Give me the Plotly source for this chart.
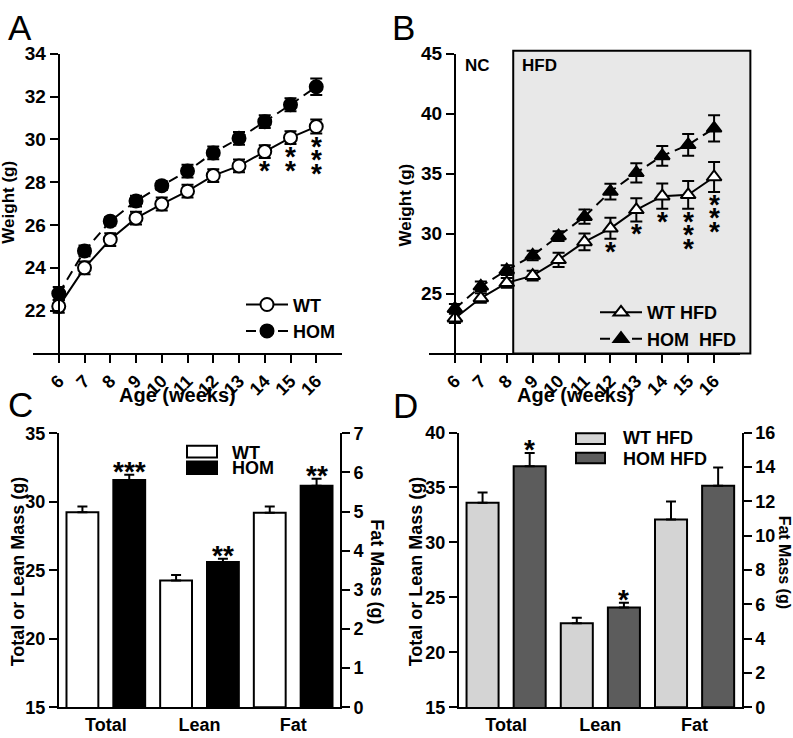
import plotly.graph_objects as go

W, H = 793, 738
FONT = "Liberation Sans, Arial, sans-serif"

# ---------------- data ----------------
weeks = [6, 7, 8, 9, 10, 11, 12, 13, 14, 15, 16]

# Panel A (normal chow)
a_wt = [22.2, 24.0, 25.32, 26.32, 26.98, 27.58, 28.31, 28.76, 29.43, 30.08, 30.6]
a_wt_err = [0.3, 0.3, 0.3, 0.3, 0.3, 0.3, 0.3, 0.3, 0.3, 0.3, 0.33]
a_hom = [22.8, 24.79, 26.18, 27.12, 27.84, 28.52, 29.37, 30.05, 30.83, 31.62, 32.46]
a_hom_err = [0.3, 0.25, 0.2, 0.25, 0.2, 0.3, 0.3, 0.3, 0.3, 0.3, 0.38]
a_stars = [0, 0, 0, 0, 0, 0, 0, 0, 1, 2, 3]
a_yticks = [22, 24, 26, 28, 30, 32, 34]

# Panel B (high-fat diet)
b_wt = [22.94, 24.62, 25.89, 26.49, 27.81, 29.3, 30.44, 31.98, 33.12, 33.23, 34.72]
b_wt_err = [0.4, 0.4, 0.4, 0.4, 0.6, 0.7, 0.88, 0.97, 1.05, 1.15, 1.25]
b_hom = [23.73, 25.6, 26.95, 28.17, 29.79, 31.41, 33.5, 35.07, 36.48, 37.4, 38.78]
b_hom_err = [0.4, 0.4, 0.4, 0.4, 0.4, 0.6, 0.65, 0.8, 0.82, 0.9, 1.1]
b_stars = [0, 0, 0, 0, 0, 0, 1, 1, 1, 3, 3]
b_yticks = [25, 30, 35, 40, 45]
hfd_start = 8.25
hfd_end = 17.4

# Panel C / D body composition
cats = ["Total", "Lean", "Fat"]
mass_cats = ["Total", "Lean"]
fat_cats = ["Fat"]

c_wt_mass = [29.23, 24.25]
c_wt_mass_err = [0.43, 0.41]
c_hom_mass = [31.58, 25.61]
c_hom_mass_err = [0.38, 0.23]
c_wt_fat = [4.97]
c_wt_fat_err = [0.16]
c_hom_fat = [5.66]
c_hom_fat_err = [0.18]
c_stars = ["***", "**", "**"]
c_left_ticks = [15, 20, 25, 30, 35]
c_right_ticks = [0, 1, 2, 3, 4, 5, 6, 7]

d_wt_mass = [33.6, 22.64]
d_wt_mass_err = [0.94, 0.51]
d_hom_mass = [36.93, 24.09]
d_hom_mass_err = [1.21, 0.41]
d_wt_fat = [10.94]
d_wt_fat_err = [1.04]
d_hom_fat = [12.9]
d_hom_fat_err = [1.07]
d_stars = ["*", "*", ""]
d_left_ticks = [15, 20, 25, 30, 35, 40]
d_right_ticks = [0, 2, 4, 6, 8, 10, 12, 14, 16]

# ---------------- helpers ----------------
def px(x):
    return x / W


def py(y):
    return 1 - y / H


def bold(size):
    return dict(family=FONT, size=size, color="black", weight="bold")


def btext(vals):
    return ["<b>%s</b>" % v for v in vals]


XR = [5, 17]
A_X = (33, 342)
B_X = (429, 740)
AB_Y = (45, 353)
C_X = (59, 340)
D_X = (459, 741.7)
CD_Y = (716.7, 435)
D_Y = (716.7, 434.3)

fig = go.Figure()

err_style = dict(type="data", color="black", thickness=2, width=6)

# ---- A ----
fig.add_trace(go.Scatter(
    x=weeks, y=a_hom, name="HOM", mode="lines+markers", legend="legend", legendrank=2,
    line=dict(color="black", width=2, dash="10px,6px"),
    marker=dict(symbol="circle", size=13, color="black", line=dict(color="black", width=2)),
    error_y=dict(array=a_hom_err, **err_style), xaxis="x", yaxis="y"))
fig.add_trace(go.Scatter(
    x=weeks, y=a_wt, name="WT", mode="lines+markers", legend="legend", legendrank=1,
    line=dict(color="black", width=2),
    marker=dict(symbol="circle", size=13, color="white", line=dict(color="black", width=2)),
    error_y=dict(array=a_wt_err, **err_style), xaxis="x", yaxis="y"))

# ---- B ----
fig.add_trace(go.Scatter(
    x=weeks, y=b_hom, name="HOM  HFD", mode="lines+markers", legend="legend2", legendrank=2,
    line=dict(color="black", width=2, dash="10px,6px"),
    marker=dict(symbol="triangle-up", size=13, color="black", line=dict(color="black", width=2)),
    error_y=dict(array=b_hom_err, **err_style), xaxis="x2", yaxis="y2"))
fig.add_trace(go.Scatter(
    x=weeks, y=b_wt, name="WT HFD", mode="lines+markers", legend="legend2", legendrank=1,
    line=dict(color="black", width=2),
    marker=dict(symbol="triangle-up", size=13, color="white", line=dict(color="black", width=2)),
    error_y=dict(array=b_wt_err, **err_style), xaxis="x2", yaxis="y2"))

# ---- C / D bars ----
bar_err = dict(type="data", color="black", thickness=2, width=5, symmetric=False)


def add_bars(xa, ya, yf, wt_m, wt_me, hom_m, hom_me, wt_f, wt_fe, hom_f, hom_fe, c_wt, c_hom):
    line = dict(color="black", width=2)
    fig.add_trace(go.Bar(x=mass_cats, y=wt_m, marker=dict(color=c_wt, line=line), showlegend=False,
                         error_y=dict(array=wt_me, arrayminus=[0] * len(wt_me), **bar_err),
                         xaxis=xa, yaxis=ya))
    fig.add_trace(go.Bar(x=mass_cats, y=hom_m, marker=dict(color=c_hom, line=line), showlegend=False,
                         error_y=dict(array=hom_me, arrayminus=[0] * len(hom_me), **bar_err),
                         xaxis=xa, yaxis=ya))
    fig.add_trace(go.Bar(x=fat_cats, y=wt_f, marker=dict(color=c_wt, line=line), showlegend=False,
                         error_y=dict(array=wt_fe, arrayminus=[0] * len(wt_fe), **bar_err),
                         xaxis=xa, yaxis=yf))
    fig.add_trace(go.Bar(x=fat_cats, y=hom_f, marker=dict(color=c_hom, line=line), showlegend=False,
                         error_y=dict(array=hom_fe, arrayminus=[0] * len(hom_fe), **bar_err),
                         xaxis=xa, yaxis=yf))


add_bars("x3", "y3", "y5", c_wt_mass, c_wt_mass_err, c_hom_mass, c_hom_mass_err,
         c_wt_fat, c_wt_fat_err, c_hom_fat, c_hom_fat_err, "white", "black")
add_bars("x4", "y4", "y6", d_wt_mass, d_wt_mass_err, d_hom_mass, d_hom_mass_err,
         d_wt_fat, d_wt_fat_err, d_hom_fat, d_hom_fat_err, "#d4d4d4", "#5c5c5c")

# ---------------- axes ----------------
common = dict(showgrid=False, zeroline=False, showline=True, linecolor="black", linewidth=2,
              ticks="outside", ticklen=8, tickwidth=2, tickcolor="black", fixedrange=True)


def free_pos(xdom):
    return px(xdom[0]) + (6 - XR[0]) / (XR[1] - XR[0]) * (px(xdom[1]) - px(xdom[0]))


layout_axes = dict(
    xaxis=dict(domain=[px(A_X[0]), px(A_X[1])], range=XR, anchor="y", tickvals=weeks,
               ticktext=btext(weeks), tickangle=-45, tickfont=bold(18), **common),
    yaxis=dict(domain=[py(AB_Y[1]), py(AB_Y[0])], range=[20, 34], anchor="free",
               position=free_pos(A_X), tickvals=a_yticks, ticktext=btext(a_yticks),
               tickfont=bold(19), **common),
    xaxis2=dict(domain=[px(B_X[0]), px(B_X[1])], range=XR, anchor="y2", tickvals=weeks,
                ticktext=btext(weeks), tickangle=-45, tickfont=bold(18), **common),
    yaxis2=dict(domain=[py(AB_Y[1]), py(AB_Y[0])], range=[20, 45], anchor="free",
                position=free_pos(B_X), tickvals=b_yticks, ticktext=btext(b_yticks),
                tickfont=bold(19), **common),
)
cat_axis = dict(type="category", categoryorder="array", categoryarray=cats, range=[-0.5, 2.5],
                tickvals=cats, ticktext=btext(cats),
                showgrid=False, zeroline=False, showline=True, linecolor="black", linewidth=2,
                ticks="", tickfont=bold(18), fixedrange=True)
layout_axes.update(
    xaxis3=dict(domain=[px(C_X[0]), px(C_X[1])], anchor="y3", **cat_axis),
    yaxis3=dict(domain=[py(CD_Y[0]), py(CD_Y[1])], range=[15, 35], anchor="x3",
                tickvals=c_left_ticks, ticktext=btext(c_left_ticks), tickfont=bold(18), **common),
    yaxis5=dict(overlaying="y3", side="right", range=[0, 7], anchor="x3",
                tickvals=c_right_ticks, ticktext=btext(c_right_ticks), tickfont=bold(18), **common),
    xaxis4=dict(domain=[px(D_X[0]), px(D_X[1])], anchor="y4", **cat_axis),
    yaxis4=dict(domain=[py(D_Y[0]), py(D_Y[1])], range=[15, 40], anchor="x4",
                tickvals=d_left_ticks, ticktext=btext(d_left_ticks), tickfont=bold(18), **common),
    yaxis6=dict(overlaying="y4", side="right", range=[0, 16], anchor="x4",
                tickvals=d_right_ticks, ticktext=btext(d_right_ticks), tickfont=bold(18), **common),
)

# ---------------- shapes ----------------
shapes = [
    dict(type="rect", xref="x2 domain", yref="y2 domain",
         x0=(hfd_start - XR[0]) / (XR[1] - XR[0]), x1=(hfd_end - XR[0]) / (XR[1] - XR[0]),
         y0=0, y1=(45.25 - 20) / 25, fillcolor="#e8e8e8", line=dict(color="black", width=2),
         layer="below"),
]


def legend_box(x0, x1, y0, y1, color):
    shapes.append(dict(type="rect", xref="paper", yref="paper", x0=px(x0), x1=px(x1),
                       y0=py(y1), y1=py(y0), fillcolor=color, line=dict(color="black", width=2)))


legend_box(187, 217, 448, 460, "white")
legend_box(187, 217, 464, 477, "black")
legend_box(576, 605, 435, 446, "#d4d4d4")
legend_box(576, 605, 455, 466, "#5c5c5c")

# ---------------- annotations ----------------
ann = []


def text(x, y, s, size, weight="bold", angle=0, xanchor="center"):
    ann.append(dict(x=px(x), y=py(y), xref="paper", yref="paper", text=s, showarrow=False,
                    textangle=angle, xanchor=xanchor, yanchor="middle",
                    font=dict(family=FONT, size=size, color="black", weight=weight)))


# panel letters
text(6, 18, "A", 35, weight="normal", xanchor="left")
text(390, 18.5, "B", 35, weight="normal", xanchor="left")
text(6, 405, "C", 35, weight="normal", xanchor="left")
text(391, 407, "D", 35, weight="normal", xanchor="left")

# axis titles
text(9, 198, "Weight (g)", 17, angle=-90)
text(406, 201, "Weight (g)", 17, angle=-90)
text(177.5, 396, "Age (weeks)", 20)
text(575.5, 396, "Age (weeks)", 20)
text(18, 577, "Total or Lean Mass (g)", 18, angle=-90)
text(416, 577, "Total or Lean Mass (g)", 18, angle=-90)
text(377, 577, "Fat Mass (g)", 18, angle=90)
text(784, 567, "Fat Mass (g)", 16, angle=90)

# diet labels
text(463, 57, "NC", 17, xanchor="left")
text(520, 57, "HFD", 17, xanchor="left")

# manual bar legends
text(230, 455, "WT", 18, xanchor="left")
text(230, 471, "HOM", 18, xanchor="left")
text(621, 440, "WT HFD", 18, xanchor="left")
text(621, 461, "HOM HFD", 18, xanchor="left")

STAR = dict(family=FONT, size=28, color="black", weight="bold")
GLYPH = 5.5


def line_stars(xr, yr, vals, errs, counts):
    for w, v, e, n in zip(weeks, vals, errs, counts):
        for i in range(n):
            ann.append(dict(x=w, y=v - e, xref=xr, yref=yr, text="*", showarrow=False,
                            xanchor="center", yanchor="middle", font=STAR,
                            yshift=-(7 + 13.5 * i) - GLYPH))


line_stars("x", "y", a_wt, a_wt_err, a_stars)
line_stars("x2", "y2", b_wt, b_wt_err, b_stars)


def bar_stars(xr, yr, yf, hom_m, hom_me, hom_f, hom_fe, stars):
    tops = [(yr, m + e) for m, e in zip(hom_m, hom_me)] + [(yf, f + e) for f, e in zip(hom_f, hom_fe)]
    for idx, (s, (ref, top)) in enumerate(zip(stars, tops)):
        if s:
            ann.append(dict(x=idx + 0.25, y=top, xref=xr, yref=ref, text=s, showarrow=False,
                            xanchor="center", yanchor="middle", font=STAR, yshift=9 - GLYPH))


bar_stars("x3", "y3", "y5", c_hom_mass, c_hom_mass_err, c_hom_fat, c_hom_fat_err, c_stars)
bar_stars("x4", "y4", "y6", d_hom_mass, d_hom_mass_err, d_hom_fat, d_hom_fat_err, d_stars)

legend_common = dict(xanchor="left", yanchor="top", bgcolor="rgba(0,0,0,0)", borderwidth=0,
                     font=bold(18), itemwidth=42, tracegroupgap=0, itemclick=False,
                     itemdoubleclick=False)

fig.update_layout(
    width=W, height=H, autosize=False, margin=dict(l=0, r=0, t=0, b=0),
    paper_bgcolor="white", plot_bgcolor="rgba(0,0,0,0)",
    barmode="group", bargap=0, bargroupgap=0.32,
    showlegend=True,
    legend=dict(x=px(241), y=py(284), **legend_common),
    legend2=dict(x=px(595), y=py(292), **legend_common),
    shapes=shapes, annotations=ann, font=dict(family=FONT, color="black"),
    **layout_axes,
)

fig.write_html(
    "out.html",
    config={"displayModeBar": False},
    post_script="document.body.style.margin='0';document.body.style.overflow='hidden';",
)
